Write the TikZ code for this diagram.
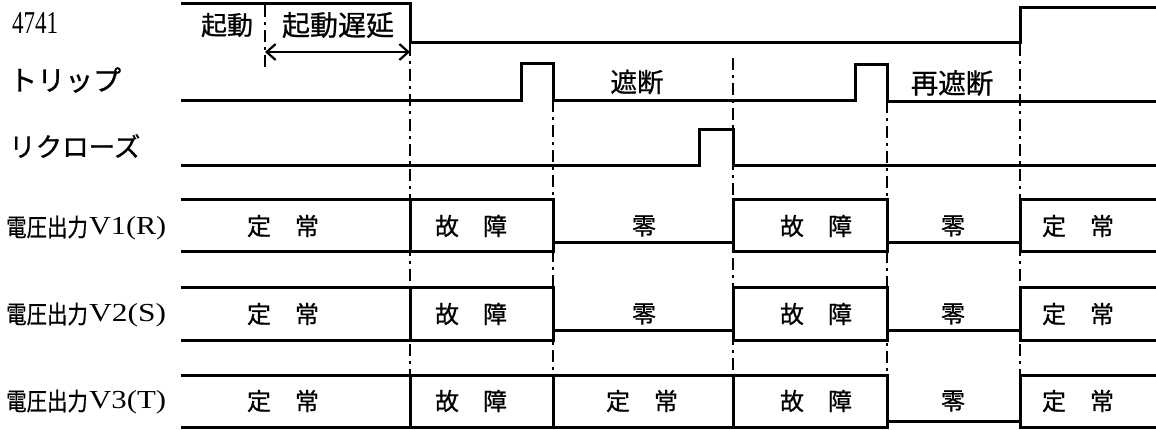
\documentclass[tikz,border=0pt]{standalone}
\usepackage{fontspec}
\setmainfont{Liberation Serif}
\newfontfamily\cjk[FakeBold=0.8]{Noto Sans CJK JP}
\usetikzlibrary{arrows.meta}
\newcommand{\cj}[2]{{\fontsize{#1pt}{#1pt}\selectfont\cjk #2}}
\begin{document}
\begin{tikzpicture}[x=1pt,y=-1pt,
  sig/.style={line width=3pt, line cap=rect, line join=miter},
  guide/.style={line width=2.4pt, dash pattern=on 12pt off 5pt on 3pt off 5pt},
  lbl/.style={inner sep=0pt, anchor=west},
  txt/.style={inner sep=0pt, anchor=center},
  dimarrow/.style={line width=2.2pt, {Straight Barb[length=9pt,width=16pt,line width=2.2pt]}-{Straight Barb[length=9pt,width=16pt,line width=2.2pt]}}]
\useasboundingbox (0,0) rectangle (1156,429);
% ---- left labels
\node[lbl] (l4741) at (12,23) {\resizebox{46pt}{21pt}{4741}};
\node[lbl] (ltrip) at (9,80) {\cj{28}{トリップ}};
\node[lbl] (lrecl) at (9,146) {\cj{26.5}{リクローズ}};
\foreach \yy/\nm/\ph in {227/v1/V1(R), 314/v2/V2(S), 401/v3/V3(T)}{
  \node[lbl] (lk\nm) at (6,\yy) {\scalebox{0.95}[1.15]{\cj{21.5}{電圧出力}}};
  \node[lbl] (lp\nm) at (89,\yy+1) {\resizebox{77pt}{18pt}{\ph}};
}
% ---- guide lines
\draw[guide] (265,5) -- (265,68);
\draw[guide] (410,44) -- (410,427);
\draw[guide] (553,100) -- (553,427);
\draw[guide] (733,58) -- (733,427);
\draw[guide] (887,101) -- (887,427);
\draw[guide] (1020,44) -- (1020,427);
% ---- digital signals
\draw[sig] (182,3) -- (410,3) -- (410,42) -- (1020,42) -- (1020,7) -- (1156,7);
\draw[sig] (182,100) -- (521,100) -- (521,63) -- (553,63) -- (553,100) -- (855,100) -- (855,64) -- (887,64) -- (887,101) -- (1156,101);
\draw[sig] (182,165) -- (699,165) -- (699,129) -- (733,129) -- (733,165) -- (1156,165);
% ---- start delay
\node[txt] (tkd) at (227,25) {\cj{26}{起動}};
\node[txt] (tkdd) at (338,25) {\cj{28}{起動遅延}};
\coordinate (da) at (265,52);
\coordinate (db) at (410,52);
\draw[dimarrow] (da) -- (db);
\node[txt] (tsd) at (637,82) {\cj{26.5}{遮断}};
\node[txt] (tsd2) at (952,83) {\cj{27.5}{再遮断}};
% ---- V1
\draw[sig] (182,199) -- (553,199) (182,251) -- (553,251) (410,199) -- (410,251) (553,199) -- (553,251);
\draw[sig] (553,242) -- (733,242);
\draw[sig] (733,199) rectangle (887,251);
\draw[sig] (887,242) -- (1020,242);
\draw[sig] (1156,199) -- (1020,199) -- (1020,251) -- (1156,251);
% ---- V2
\draw[sig] (182,287) -- (553,287) (182,340) -- (553,340) (410,287) -- (410,340) (553,287) -- (553,340);
\draw[sig] (553,330) -- (733,330);
\draw[sig] (733,287) rectangle (887,340);
\draw[sig] (887,330) -- (1020,330);
\draw[sig] (1156,287) -- (1020,287) -- (1020,340) -- (1156,340);
% ---- V3
\draw[sig] (182,375) -- (887,375) (182,427) -- (887,427) (410,375) -- (410,427) (553,375) -- (553,427) (733,375) -- (733,427) (887,375) -- (887,427);
\draw[sig] (887,421) -- (1020,421);
\draw[sig] (1156,375) -- (1020,375) -- (1020,427) -- (1156,427);
% ---- band texts
\foreach \yy/\rw in {226/a, 314/b, 401/c}{
  \node[txt] (n1\rw) at (283,\yy) {\cj{24}{定　常}};
  \node[txt] (n2\rw) at (471,\yy) {\cj{24}{故　障}};
  \node[txt] (n4\rw) at (816,\yy) {\cj{24}{故　障}};
  \node[txt] (n5\rw) at (953,\yy) {\cj{24}{零}};
  \node[txt] (n6\rw) at (1078,\yy) {\cj{24}{定　常}};
}
\node[txt] (n3a) at (644,226) {\cj{24}{零}};
\node[txt] (n3b) at (644,314) {\cj{24}{零}};
\node[txt] (n3c) at (642,401) {\cj{24}{定　常}};
\end{tikzpicture}
\end{document}
